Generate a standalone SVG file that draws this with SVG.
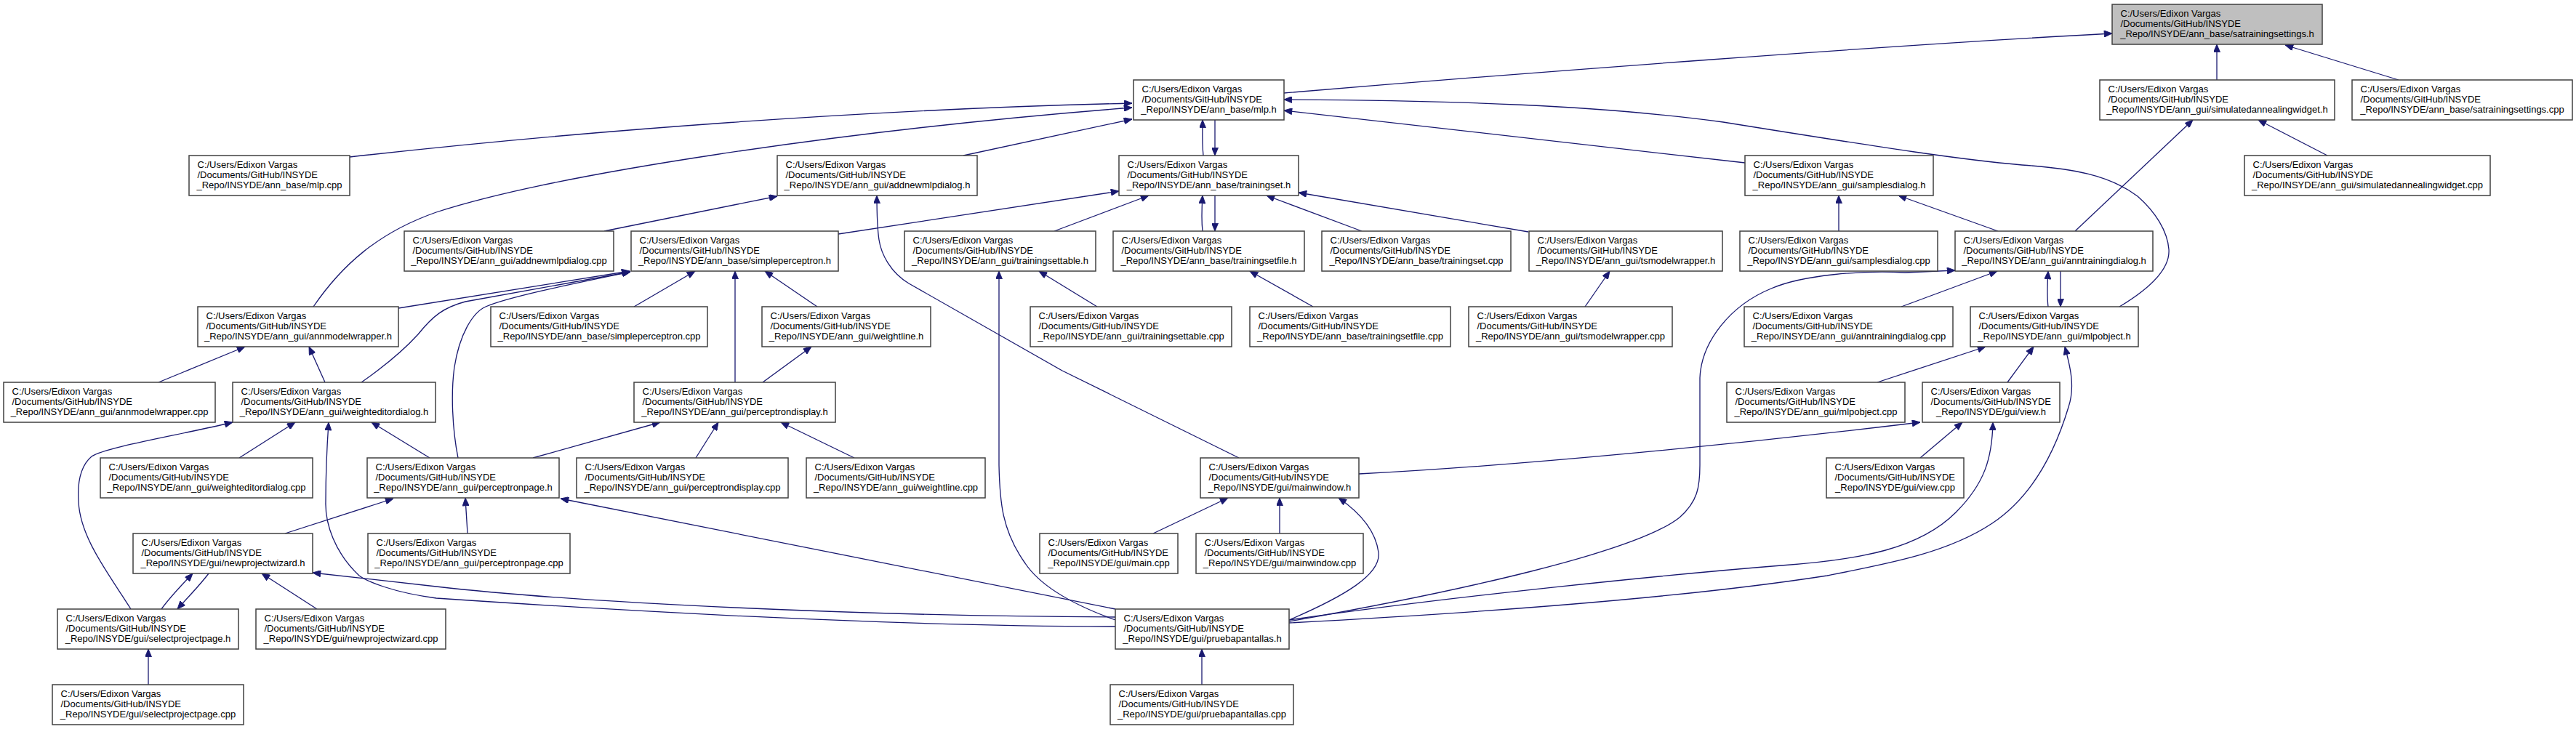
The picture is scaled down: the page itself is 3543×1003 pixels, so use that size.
<svg xmlns="http://www.w3.org/2000/svg" width="3543" height="1003" viewBox="0 0 3543 1003">
<defs>
<style>
.n rect{fill:#fff;stroke:#404040;stroke-width:1.5}
.n.root rect{fill:#bfbfbf}
.n text{font-family:"Liberation Sans",Arial,sans-serif;font-size:13px;fill:#000}
.n text.c{text-anchor:middle}
#edges path{fill:none;stroke:#191970;stroke-width:1.3;marker-end:url(#ah)}
</style>
<marker id="ah" viewBox="0 0 12 10" refX="12" refY="5" markerWidth="12" markerHeight="9" markerUnits="userSpaceOnUse" orient="auto">
<path d="M0,0 L12,5 L0,10 z" fill="#191970" stroke="#191970" stroke-width="1"/>
</marker>
</defs>
<rect width="3543" height="1003" fill="#fff"/>
<g id="edges">
<path d="M1766,128 C2100,100 2600,62 2905,46"/>
<path d="M3049,110 L3049,61"/>
<path d="M3299,110 L3143,62"/>
<path d="M481,216 C800,180 1200,150 1557,142"/>
<path d="M431,422 C470,365 520,320 600,292 C760,240 1150,180 1557,148"/>
<path d="M1325,214 L1557,164"/>
<path d="M1655,214 C1653,195 1654,180 1654,165"/>
<path d="M1671,165 L1671,214"/>
<path d="M2915,422 C2955,398 2985,370 2983,343 C2981,318 2965,292 2940,270 C2900,240 2850,232 2781,227 C2700,220 2600,205 2370,168 C2200,145 2000,138 1766,137"/>
<path d="M2400,224 L1766,152"/>
<path d="M1153,322 L1539,263"/>
<path d="M1450,318 L1580,269"/>
<path d="M1654,318 C1652,300 1653,285 1654,269"/>
<path d="M1671,269 L1671,318"/>
<path d="M1873,318 L1742,269"/>
<path d="M2102,319 L1786,265"/>
<path d="M872,422 L956,373"/>
<path d="M1011,526 L1011,373"/>
<path d="M1124,422 L1052,373"/>
<path d="M548,424 L866,373"/>
<path d="M497,526 C530,503 555,482 575,460 C595,435 610,423 640,415 L867,374"/>
<path d="M630,630 C622,590 620,540 625,505 C632,460 650,430 668,422 C700,408 800,388 867,374"/>
<path d="M218,526 L337,477"/>
<path d="M447,526 L425,477"/>
<path d="M329,630 L406,581"/>
<path d="M591,630 L511,581"/>
<path d="M180,838 C150,790 110,740 108,690 C106,660 112,640 126,628 C145,615 250,598 320,581"/>
<path d="M1534,862 C1300,862 1000,850 600,823 C540,815 505,800 494,792 C460,760 447,720 448,690 C448,650 450,610 452,581"/>
<path d="M1534,849 C1200,848 800,830 600,807 L430,788"/>
<path d="M1534,838 L771,686"/>
<path d="M392,734 L541,686"/>
<path d="M643,734 L640,685"/>
<path d="M733,630 L908,581"/>
<path d="M957,630 L988,581"/>
<path d="M1175,630 L1074,581"/>
<path d="M1049,526 L1116,477"/>
<path d="M222,838 C235,820 250,805 265,789"/>
<path d="M287,789 C275,805 260,820 244,838"/>
<path d="M436,838 L360,789"/>
<path d="M204,942 L204,893"/>
<path d="M831,318 L1069,270"/>
<path d="M1704,630 L1461,510 L1250,390 C1225,375 1212,350 1209,330 C1206,310 1206,290 1206,269"/>
<path d="M1534,853 C1470,830 1430,805 1410,775 C1378,730 1375,690 1374,640 L1374,373"/>
<path d="M1509,422 L1429,373"/>
<path d="M1806,422 L1719,373"/>
<path d="M2180,422 L2214,373"/>
<path d="M2529,318 L2529,269"/>
<path d="M2748,318 L2611,269"/>
<path d="M2854,318 L3016,165"/>
<path d="M3201,214 L3106,165"/>
<path d="M2615,422 L2747,373"/>
<path d="M2817,422 C2815,405 2816,390 2817,373"/>
<path d="M2834,373 L2834,422"/>
<path d="M1773,855 C2000,815 2250,760 2310,712 C2335,690 2338,670 2338,640 L2338,520 C2340,470 2380,420 2436,397 C2480,378 2560,372 2620,375 L2689,372"/>
<path d="M2582,526 L2731,477"/>
<path d="M2761,526 L2797,477"/>
<path d="M1773,857 C2000,845 2300,825 2513,792 C2600,775 2680,760 2740,720 C2800,680 2830,610 2845,560 C2855,530 2846,500 2840,477"/>
<path d="M1773,853 C2000,820 2300,790 2450,778 C2560,770 2640,755 2690,705 C2730,665 2740,630 2741,581"/>
<path d="M1869,652 C2100,640 2400,610 2641,581"/>
<path d="M2641,630 L2699,581"/>
<path d="M1760,734 L1760,685"/>
<path d="M1586,734 L1689,685"/>
<path d="M1773,853 C1850,820 1900,790 1896,760 C1892,730 1870,705 1841,685"/>
<path d="M1653,942 L1653,893"/>
</g>
<g id="n_satrainingsettings_h" class="n root"><rect x="2905" y="6" width="289" height="55"/><text x="2916.5" y="22.8">C:/Users/Edixon Vargas</text><text x="2916.5" y="37.1">/Documents/GitHub/INSYDE</text><text class="c" x="3049.5" y="51.4">_Repo/INSYDE/ann_base/satrainingsettings.h</text></g>
<g id="n_mlp_h" class="n"><rect x="1559" y="110" width="207" height="55"/><text x="1570.5" y="126.8">C:/Users/Edixon Vargas</text><text x="1570.5" y="141.1">/Documents/GitHub/INSYDE</text><text class="c" x="1662.5" y="155.4">_Repo/INSYDE/ann_base/mlp.h</text></g>
<g id="n_simulatedannealingwidget_h" class="n"><rect x="2888" y="110" width="323" height="55"/><text x="2899.5" y="126.8">C:/Users/Edixon Vargas</text><text x="2899.5" y="141.1">/Documents/GitHub/INSYDE</text><text class="c" x="3049.5" y="155.4">_Repo/INSYDE/ann_gui/simulatedannealingwidget.h</text></g>
<g id="n_satrainingsettings_cpp" class="n"><rect x="3235" y="110" width="303" height="55"/><text x="3246.5" y="126.8">C:/Users/Edixon Vargas</text><text x="3246.5" y="141.1">/Documents/GitHub/INSYDE</text><text class="c" x="3386.5" y="155.4">_Repo/INSYDE/ann_base/satrainingsettings.cpp</text></g>
<g id="n_mlp_cpp" class="n"><rect x="260" y="214" width="221" height="55"/><text x="271.5" y="230.8">C:/Users/Edixon Vargas</text><text x="271.5" y="245.1">/Documents/GitHub/INSYDE</text><text class="c" x="370.5" y="259.4">_Repo/INSYDE/ann_base/mlp.cpp</text></g>
<g id="n_addnewmlpdialog_h" class="n"><rect x="1069" y="214" width="275" height="55"/><text x="1080.5" y="230.8">C:/Users/Edixon Vargas</text><text x="1080.5" y="245.1">/Documents/GitHub/INSYDE</text><text class="c" x="1206.5" y="259.4">_Repo/INSYDE/ann_gui/addnewmlpdialog.h</text></g>
<g id="n_trainingset_h" class="n"><rect x="1539" y="214" width="247" height="55"/><text x="1550.5" y="230.8">C:/Users/Edixon Vargas</text><text x="1550.5" y="245.1">/Documents/GitHub/INSYDE</text><text class="c" x="1662.5" y="259.4">_Repo/INSYDE/ann_base/trainingset.h</text></g>
<g id="n_samplesdialog_h" class="n"><rect x="2400" y="214" width="259" height="55"/><text x="2411.5" y="230.8">C:/Users/Edixon Vargas</text><text x="2411.5" y="245.1">/Documents/GitHub/INSYDE</text><text class="c" x="2529.5" y="259.4">_Repo/INSYDE/ann_gui/samplesdialog.h</text></g>
<g id="n_simulatedannealingwidget_cpp" class="n"><rect x="3087" y="214" width="338" height="55"/><text x="3098.5" y="230.8">C:/Users/Edixon Vargas</text><text x="3098.5" y="245.1">/Documents/GitHub/INSYDE</text><text class="c" x="3256" y="259.4">_Repo/INSYDE/ann_gui/simulatedannealingwidget.cpp</text></g>
<g id="n_addnewmlpdialog_cpp" class="n"><rect x="556" y="318" width="288" height="55"/><text x="567.5" y="334.8">C:/Users/Edixon Vargas</text><text x="567.5" y="349.1">/Documents/GitHub/INSYDE</text><text class="c" x="700" y="363.4">_Repo/INSYDE/ann_gui/addnewmlpdialog.cpp</text></g>
<g id="n_simpleperceptron_h" class="n"><rect x="868" y="318" width="285" height="55"/><text x="879.5" y="334.8">C:/Users/Edixon Vargas</text><text x="879.5" y="349.1">/Documents/GitHub/INSYDE</text><text class="c" x="1010.5" y="363.4">_Repo/INSYDE/ann_base/simpleperceptron.h</text></g>
<g id="n_trainingsettable_h" class="n"><rect x="1244" y="318" width="263" height="55"/><text x="1255.5" y="334.8">C:/Users/Edixon Vargas</text><text x="1255.5" y="349.1">/Documents/GitHub/INSYDE</text><text class="c" x="1375.5" y="363.4">_Repo/INSYDE/ann_gui/trainingsettable.h</text></g>
<g id="n_trainingsetfile_h" class="n"><rect x="1531" y="318" width="263" height="55"/><text x="1542.5" y="334.8">C:/Users/Edixon Vargas</text><text x="1542.5" y="349.1">/Documents/GitHub/INSYDE</text><text class="c" x="1662.5" y="363.4">_Repo/INSYDE/ann_base/trainingsetfile.h</text></g>
<g id="n_trainingset_cpp" class="n"><rect x="1818" y="318" width="260" height="55"/><text x="1829.5" y="334.8">C:/Users/Edixon Vargas</text><text x="1829.5" y="349.1">/Documents/GitHub/INSYDE</text><text class="c" x="1948" y="363.4">_Repo/INSYDE/ann_base/trainingset.cpp</text></g>
<g id="n_tsmodelwrapper_h" class="n"><rect x="2103" y="318" width="266" height="55"/><text x="2114.5" y="334.8">C:/Users/Edixon Vargas</text><text x="2114.5" y="349.1">/Documents/GitHub/INSYDE</text><text class="c" x="2236" y="363.4">_Repo/INSYDE/ann_gui/tsmodelwrapper.h</text></g>
<g id="n_samplesdialog_cpp" class="n"><rect x="2393" y="318" width="272" height="55"/><text x="2404.5" y="334.8">C:/Users/Edixon Vargas</text><text x="2404.5" y="349.1">/Documents/GitHub/INSYDE</text><text class="c" x="2529" y="363.4">_Repo/INSYDE/ann_gui/samplesdialog.cpp</text></g>
<g id="n_anntrainingdialog_h" class="n"><rect x="2689" y="318" width="272" height="55"/><text x="2700.5" y="334.8">C:/Users/Edixon Vargas</text><text x="2700.5" y="349.1">/Documents/GitHub/INSYDE</text><text class="c" x="2825" y="363.4">_Repo/INSYDE/ann_gui/anntrainingdialog.h</text></g>
<g id="n_annmodelwrapper_h" class="n"><rect x="272" y="422" width="276" height="55"/><text x="283.5" y="438.8">C:/Users/Edixon Vargas</text><text x="283.5" y="453.1">/Documents/GitHub/INSYDE</text><text class="c" x="410" y="467.4">_Repo/INSYDE/ann_gui/annmodelwrapper.h</text></g>
<g id="n_simpleperceptron_cpp" class="n"><rect x="675" y="422" width="298" height="55"/><text x="686.5" y="438.8">C:/Users/Edixon Vargas</text><text x="686.5" y="453.1">/Documents/GitHub/INSYDE</text><text class="c" x="824" y="467.4">_Repo/INSYDE/ann_base/simpleperceptron.cpp</text></g>
<g id="n_weightline_h" class="n"><rect x="1048" y="422" width="232" height="55"/><text x="1059.5" y="438.8">C:/Users/Edixon Vargas</text><text x="1059.5" y="453.1">/Documents/GitHub/INSYDE</text><text class="c" x="1164" y="467.4">_Repo/INSYDE/ann_gui/weightline.h</text></g>
<g id="n_trainingsettable_cpp" class="n"><rect x="1417" y="422" width="277" height="55"/><text x="1428.5" y="438.8">C:/Users/Edixon Vargas</text><text x="1428.5" y="453.1">/Documents/GitHub/INSYDE</text><text class="c" x="1555.5" y="467.4">_Repo/INSYDE/ann_gui/trainingsettable.cpp</text></g>
<g id="n_trainingsetfile_cpp" class="n"><rect x="1719" y="422" width="276" height="55"/><text x="1730.5" y="438.8">C:/Users/Edixon Vargas</text><text x="1730.5" y="453.1">/Documents/GitHub/INSYDE</text><text class="c" x="1857" y="467.4">_Repo/INSYDE/ann_base/trainingsetfile.cpp</text></g>
<g id="n_tsmodelwrapper_cpp" class="n"><rect x="2020" y="422" width="280" height="55"/><text x="2031.5" y="438.8">C:/Users/Edixon Vargas</text><text x="2031.5" y="453.1">/Documents/GitHub/INSYDE</text><text class="c" x="2160" y="467.4">_Repo/INSYDE/ann_gui/tsmodelwrapper.cpp</text></g>
<g id="n_anntrainingdialog_cpp" class="n"><rect x="2399" y="422" width="287" height="55"/><text x="2410.5" y="438.8">C:/Users/Edixon Vargas</text><text x="2410.5" y="453.1">/Documents/GitHub/INSYDE</text><text class="c" x="2542.5" y="467.4">_Repo/INSYDE/ann_gui/anntrainingdialog.cpp</text></g>
<g id="n_mlpobject_h" class="n"><rect x="2710" y="422" width="231" height="55"/><text x="2721.5" y="438.8">C:/Users/Edixon Vargas</text><text x="2721.5" y="453.1">/Documents/GitHub/INSYDE</text><text class="c" x="2825.5" y="467.4">_Repo/INSYDE/ann_gui/mlpobject.h</text></g>
<g id="n_annmodelwrapper_cpp" class="n"><rect x="5" y="526" width="291" height="55"/><text x="16.5" y="542.8">C:/Users/Edixon Vargas</text><text x="16.5" y="557.1">/Documents/GitHub/INSYDE</text><text class="c" x="150.5" y="571.4">_Repo/INSYDE/ann_gui/annmodelwrapper.cpp</text></g>
<g id="n_weighteditordialog_h" class="n"><rect x="320" y="526" width="279" height="55"/><text x="331.5" y="542.8">C:/Users/Edixon Vargas</text><text x="331.5" y="557.1">/Documents/GitHub/INSYDE</text><text class="c" x="459.5" y="571.4">_Repo/INSYDE/ann_gui/weighteditordialog.h</text></g>
<g id="n_perceptrondisplay_h" class="n"><rect x="872" y="526" width="277" height="55"/><text x="883.5" y="542.8">C:/Users/Edixon Vargas</text><text x="883.5" y="557.1">/Documents/GitHub/INSYDE</text><text class="c" x="1010.5" y="571.4">_Repo/INSYDE/ann_gui/perceptrondisplay.h</text></g>
<g id="n_mlpobject_cpp" class="n"><rect x="2375" y="526" width="245" height="55"/><text x="2386.5" y="542.8">C:/Users/Edixon Vargas</text><text x="2386.5" y="557.1">/Documents/GitHub/INSYDE</text><text class="c" x="2497.5" y="571.4">_Repo/INSYDE/ann_gui/mlpobject.cpp</text></g>
<g id="n_view_h" class="n"><rect x="2644" y="526" width="189" height="55"/><text x="2655.5" y="542.8">C:/Users/Edixon Vargas</text><text x="2655.5" y="557.1">/Documents/GitHub/INSYDE</text><text class="c" x="2738.5" y="571.4">_Repo/INSYDE/gui/view.h</text></g>
<g id="n_weighteditordialog_cpp" class="n"><rect x="138" y="630" width="292" height="55"/><text x="149.5" y="646.8">C:/Users/Edixon Vargas</text><text x="149.5" y="661.1">/Documents/GitHub/INSYDE</text><text class="c" x="284" y="675.4">_Repo/INSYDE/ann_gui/weighteditordialog.cpp</text></g>
<g id="n_perceptronpage_h" class="n"><rect x="505" y="630" width="264" height="55"/><text x="516.5" y="646.8">C:/Users/Edixon Vargas</text><text x="516.5" y="661.1">/Documents/GitHub/INSYDE</text><text class="c" x="637" y="675.4">_Repo/INSYDE/ann_gui/perceptronpage.h</text></g>
<g id="n_perceptrondisplay_cpp" class="n"><rect x="793" y="630" width="291" height="55"/><text x="804.5" y="646.8">C:/Users/Edixon Vargas</text><text x="804.5" y="661.1">/Documents/GitHub/INSYDE</text><text class="c" x="938.5" y="675.4">_Repo/INSYDE/ann_gui/perceptrondisplay.cpp</text></g>
<g id="n_weightline_cpp" class="n"><rect x="1109" y="630" width="246" height="55"/><text x="1120.5" y="646.8">C:/Users/Edixon Vargas</text><text x="1120.5" y="661.1">/Documents/GitHub/INSYDE</text><text class="c" x="1232" y="675.4">_Repo/INSYDE/ann_gui/weightline.cpp</text></g>
<g id="n_mainwindow_h" class="n"><rect x="1651" y="630" width="218" height="55"/><text x="1662.5" y="646.8">C:/Users/Edixon Vargas</text><text x="1662.5" y="661.1">/Documents/GitHub/INSYDE</text><text class="c" x="1760" y="675.4">_Repo/INSYDE/gui/mainwindow.h</text></g>
<g id="n_view_cpp" class="n"><rect x="2512" y="630" width="189" height="55"/><text x="2523.5" y="646.8">C:/Users/Edixon Vargas</text><text x="2523.5" y="661.1">/Documents/GitHub/INSYDE</text><text class="c" x="2606.5" y="675.4">_Repo/INSYDE/gui/view.cpp</text></g>
<g id="n_newprojectwizard_h" class="n"><rect x="183" y="734" width="247" height="55"/><text x="194.5" y="750.8">C:/Users/Edixon Vargas</text><text x="194.5" y="765.1">/Documents/GitHub/INSYDE</text><text class="c" x="306.5" y="779.4">_Repo/INSYDE/gui/newprojectwizard.h</text></g>
<g id="n_perceptronpage_cpp" class="n"><rect x="506" y="734" width="278" height="55"/><text x="517.5" y="750.8">C:/Users/Edixon Vargas</text><text x="517.5" y="765.1">/Documents/GitHub/INSYDE</text><text class="c" x="645" y="779.4">_Repo/INSYDE/ann_gui/perceptronpage.cpp</text></g>
<g id="n_main_cpp" class="n"><rect x="1430" y="734" width="190" height="55"/><text x="1441.5" y="750.8">C:/Users/Edixon Vargas</text><text x="1441.5" y="765.1">/Documents/GitHub/INSYDE</text><text class="c" x="1525" y="779.4">_Repo/INSYDE/gui/main.cpp</text></g>
<g id="n_mainwindow_cpp" class="n"><rect x="1645" y="734" width="230" height="55"/><text x="1656.5" y="750.8">C:/Users/Edixon Vargas</text><text x="1656.5" y="765.1">/Documents/GitHub/INSYDE</text><text class="c" x="1760" y="779.4">_Repo/INSYDE/gui/mainwindow.cpp</text></g>
<g id="n_selectprojectpage_h" class="n"><rect x="79" y="838" width="249" height="55"/><text x="90.5" y="854.8">C:/Users/Edixon Vargas</text><text x="90.5" y="869.1">/Documents/GitHub/INSYDE</text><text class="c" x="203.5" y="883.4">_Repo/INSYDE/gui/selectprojectpage.h</text></g>
<g id="n_newprojectwizard_cpp" class="n"><rect x="352" y="838" width="261" height="55"/><text x="363.5" y="854.8">C:/Users/Edixon Vargas</text><text x="363.5" y="869.1">/Documents/GitHub/INSYDE</text><text class="c" x="482.5" y="883.4">_Repo/INSYDE/gui/newprojectwizard.cpp</text></g>
<g id="n_pruebapantallas_h" class="n"><rect x="1534" y="838" width="239" height="55"/><text x="1545.5" y="854.8">C:/Users/Edixon Vargas</text><text x="1545.5" y="869.1">/Documents/GitHub/INSYDE</text><text class="c" x="1653.5" y="883.4">_Repo/INSYDE/gui/pruebapantallas.h</text></g>
<g id="n_selectprojectpage_cpp" class="n"><rect x="72" y="942" width="263" height="55"/><text x="83.5" y="958.8">C:/Users/Edixon Vargas</text><text x="83.5" y="973.1">/Documents/GitHub/INSYDE</text><text class="c" x="203.5" y="987.4">_Repo/INSYDE/gui/selectprojectpage.cpp</text></g>
<g id="n_pruebapantallas_cpp" class="n"><rect x="1527" y="942" width="252" height="55"/><text x="1538.5" y="958.8">C:/Users/Edixon Vargas</text><text x="1538.5" y="973.1">/Documents/GitHub/INSYDE</text><text class="c" x="1653" y="987.4">_Repo/INSYDE/gui/pruebapantallas.cpp</text></g>
</svg>
